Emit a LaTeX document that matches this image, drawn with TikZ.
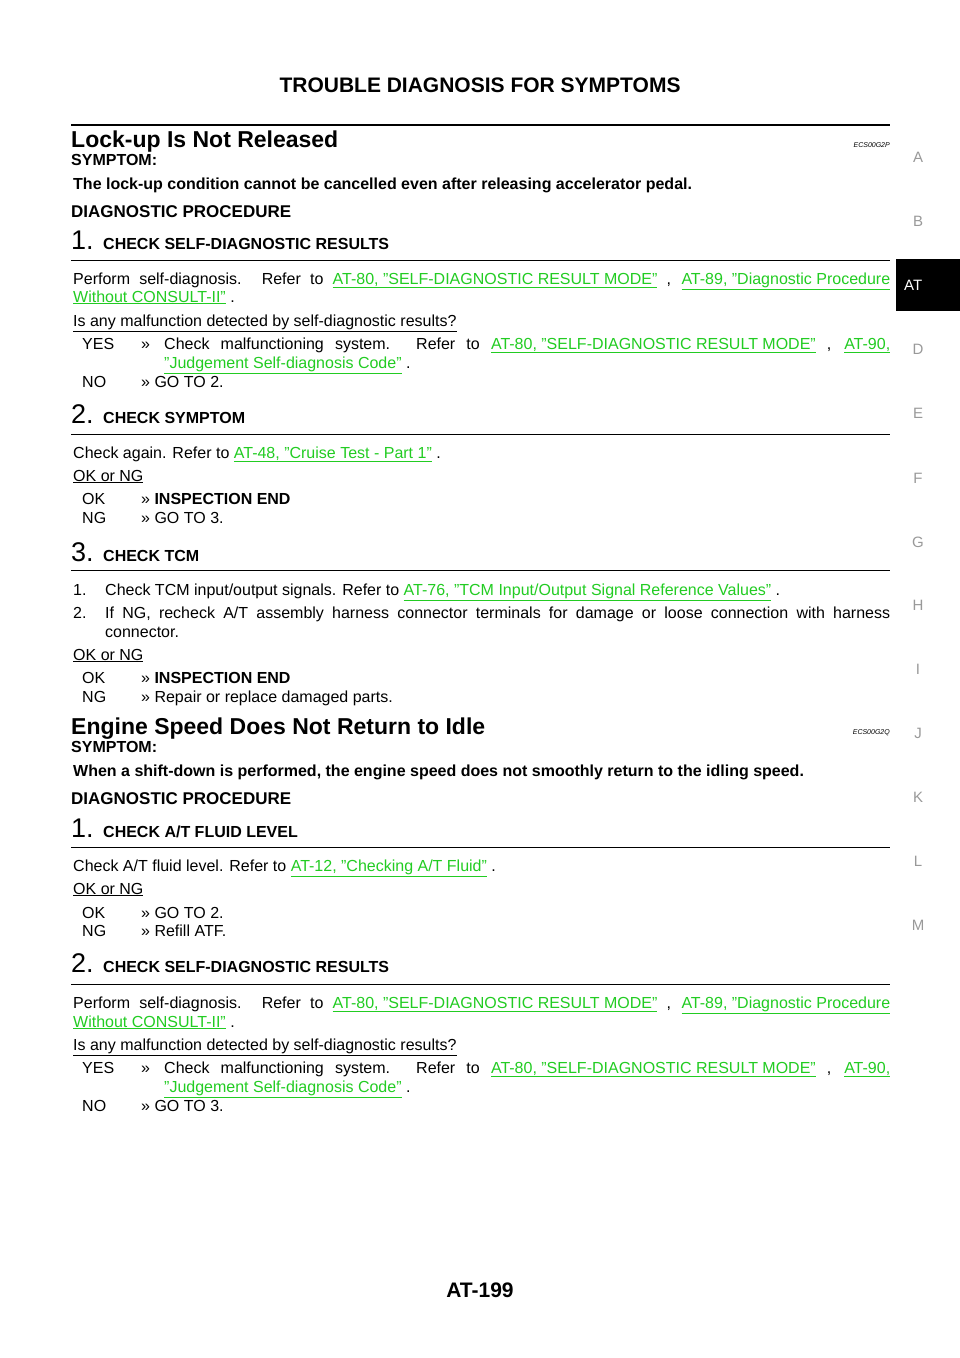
\documentclass[tikz,border=0pt]{standalone}
\usepackage{fontspec}
\setmainfont{Liberation Sans}
\definecolor{lgreen}{HTML}{22CC22}
\definecolor{tabgray}{HTML}{999999}
\newcommand{\body}{\fontsize{16}{19}\selectfont}
\newcommand{\lk}[1]{\textcolor{lgreen}{\underline{#1}}}
\newcommand{\ul}[1]{\underline{#1}}
\newcommand{\jline}[1]{\hbox to 817pt{#1}}
\newcommand{\jlineb}[1]{\hbox to 726pt{#1}}
\begin{document}
\begin{tikzpicture}[x=1pt,y=-1pt,
  txt/.style={anchor=base west,inner sep=0,font=\body},
  bold/.style={txt,font=\fontsize{16}{19}\selectfont\bfseries},
  head/.style={anchor=base west,inner sep=0,font=\fontsize{23}{26}\selectfont\bfseries},
  num/.style={anchor=base west,inner sep=0,font=\fontsize{27}{30}\selectfont},
  stephead/.style={anchor=base west,inner sep=0,font=\fontsize{16}{19}\selectfont\bfseries},
  code/.style={anchor=base east,inner sep=0,font=\fontsize{7}{8}\selectfont\itshape},
  tab/.style={inner sep=0,font=\fontsize{15}{18}\selectfont,text=tabgray},
  rule/.style={line width=1pt}]
\useasboundingbox (0,0) rectangle (960,1358);
\fill[white] (0,0) rectangle (960,1358);
% header
\node[inner sep=0,font=\fontsize{21}{24}\selectfont\bfseries] (title) at (480,85) {TROUBLE DIAGNOSIS FOR SYMPTOMS};
\draw[line width=2.5pt] (71,125) -- (890,125);
% right tabs
\foreach \l/\yy in {A/157,B/221,D/349,E/413,F/478,G/542,H/605,I/669,J/733,K/797,L/861,M/925}
  \node[tab] (tab\l) at (918,\yy) {\l};
\fill[black] (896,259) rectangle (960,311);
\node[tab,text=white,anchor=west] (tabAT) at (904,285) {AT};
% Section 1
\node[head] (s1) at (71,147) {Lock-up Is Not Released};
\node[code] (c1) at (890,147) {ECS00G2P};
\node[bold] (sym1) at (71,165) {SYMPTOM:};
\node[bold] (symt1) at (73,189) {The lock-up condition cannot be cancelled even after releasing accelerator pedal.};
\node[bold,font=\fontsize{17}{20}\selectfont\bfseries] (dp1) at (71,217) {DIAGNOSTIC PROCEDURE};
% step 1
\node[num] (n11) at (71,249) {1.};
\node[stephead] (h11) at (103,249) {CHECK SELF-DIAGNOSTIC RESULTS};
\draw[rule] (71,260) -- (890,260);
\node[txt] (p11) at (73,284) {\jline{Perform self-diagnosis. Refer to \lk{AT-80, "SELF-DIAGNOSTIC RESULT MODE"} , \lk{AT-89, "Diagnostic Procedure}}};
\node[txt] (p12) at (73,302) {\lk{Without CONSULT-II"} .};
\node[txt] (q11) at (73,326) {\ul{Is any malfunction detected by self-diagnostic results?}};
\node[txt] (y11) at (82,349) {YES};
\node[txt] (y12) at (141,349) {>>};
\node[txt] (y13) at (164,349) {\jlineb{Check malfunctioning system. Refer to \lk{AT-80, "SELF-DIAGNOSTIC RESULT MODE"} , \lk{AT-90,}}};
\node[txt] (y14) at (164,368) {\lk{"Judgement Self-diagnosis Code"} .};
\node[txt] (no11) at (82,387) {NO};
\node[txt] (no12) at (141,387) {>> GO TO 2.};
% step 2
\node[num] (n12) at (71,423) {2.};
\node[stephead] (h12) at (103,423) {CHECK SYMPTOM};
\draw[rule] (71,434) -- (890,434);
\node[txt] (p21) at (73,458) {Check again. Refer to \lk{AT-48, "Cruise Test - Part 1"} .};
\node[txt] (q21) at (73,481) {\ul{OK or NG}};
\node[txt] (ok21) at (82,504) {OK};
\node[txt] (ok22) at (141,504) {>> \textbf{INSPECTION END}};
\node[txt] (ng21) at (82,523) {NG};
\node[txt] (ng22) at (141,523) {>> GO TO 3.};
% step 3
\node[num] (n13) at (71,561) {3.};
\node[stephead] (h13) at (103,561) {CHECK TCM};
\draw[rule] (71,570) -- (890,570);
\node[txt] (p31) at (73,595) {1.};
\node[txt] (p32) at (105,595) {Check TCM input/output signals. Refer to \lk{AT-76, "TCM Input/Output Signal Reference Values"} .};
\node[txt] (p33) at (73,618) {2.};
\node[txt] (p34) at (105,618) {\hbox to 785pt{If NG, recheck A/T assembly harness connector terminals for damage or loose connection with harness}};
\node[txt] (p35) at (105,637) {connector.};
\node[txt] (q31) at (73,660) {\ul{OK or NG}};
\node[txt] (ok31) at (82,683) {OK};
\node[txt] (ok32) at (141,683) {>> \textbf{INSPECTION END}};
\node[txt] (ng31) at (82,702) {NG};
\node[txt] (ng32) at (141,702) {>> Repair or replace damaged parts.};
% Section 2
\node[head] (s2) at (71,734) {Engine Speed Does Not Return to Idle};
\node[code] (c2) at (890,734) {ECS00G2Q};
\node[bold] (sym2) at (71,752) {SYMPTOM:};
\node[bold] (symt2) at (73,776) {When a shift-down is performed, the engine speed does not smoothly return to the idling speed.};
\node[bold,font=\fontsize{17}{20}\selectfont\bfseries] (dp2) at (71,804) {DIAGNOSTIC PROCEDURE};
% step 1
\node[num] (n21) at (71,837) {1.};
\node[stephead] (h21) at (103,837) {CHECK A/T FLUID LEVEL};
\draw[rule] (71,847) -- (890,847);
\node[txt] (r11) at (73,871) {Check A/T fluid level. Refer to \lk{AT-12, "Checking A/T Fluid"} .};
\node[txt] (rq1) at (73,894) {\ul{OK or NG}};
\node[txt] (rok1) at (82,918) {OK};
\node[txt] (rok2) at (141,918) {>> GO TO 2.};
\node[txt] (rng1) at (82,936) {NG};
\node[txt] (rng2) at (141,936) {>> Refill ATF.};
% step 2
\node[num] (n22) at (71,972) {2.};
\node[stephead] (h22) at (103,972) {CHECK SELF-DIAGNOSTIC RESULTS};
\draw[rule] (71,984) -- (890,984);
\node[txt] (t11) at (73,1008) {\jline{Perform self-diagnosis. Refer to \lk{AT-80, "SELF-DIAGNOSTIC RESULT MODE"} , \lk{AT-89, "Diagnostic Procedure}}};
\node[txt] (t12) at (73,1027) {\lk{Without CONSULT-II"} .};
\node[txt] (tq1) at (73,1050) {\ul{Is any malfunction detected by self-diagnostic results?}};
\node[txt] (ty1) at (82,1073) {YES};
\node[txt] (ty2) at (141,1073) {>>};
\node[txt] (ty3) at (164,1073) {\jlineb{Check malfunctioning system. Refer to \lk{AT-80, "SELF-DIAGNOSTIC RESULT MODE"} , \lk{AT-90,}}};
\node[txt] (ty4) at (164,1092) {\lk{"Judgement Self-diagnosis Code"} .};
\node[txt] (tn1) at (82,1111) {NO};
\node[txt] (tn2) at (141,1111) {>> GO TO 3.};
% footer
\node[inner sep=0,font=\fontsize{21}{24}\selectfont\bfseries] (pg) at (480,1290) {AT-199};
\end{tikzpicture}
\end{document}
